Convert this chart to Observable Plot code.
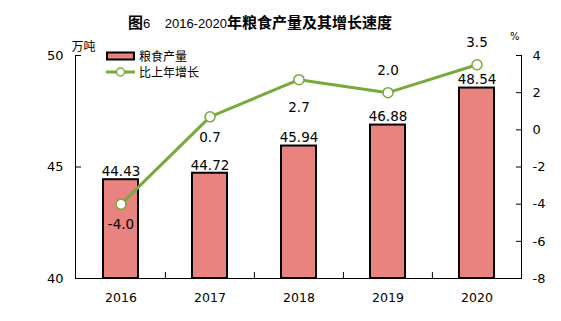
<!DOCTYPE html>
<html>
<head>
<meta charset="utf-8">
<script src="https://cdn.jsdelivr.net/npm/d3@7"></script>
<script src="https://cdn.jsdelivr.net/npm/@observablehq/plot@0.6"></script>
<style>
  body { margin: 0; background: #fff; }
  #wrap { position: relative; width: 561px; height: 321px; }
  #title { position: absolute; left: 128px; top: 13px; white-space: nowrap; font-size: 15px; line-height: 18px; color: #000; }
  #title .cjk { font-family: "Noto Sans CJK SC", sans-serif; font-weight: bold; }
  #title .num { font-family: "Liberation Sans", sans-serif; font-weight: normal; font-size: 13px; }
  #legend { position: absolute; left: 106px; top: 48px; font-family: "Noto Sans CJK SC", sans-serif; font-size: 12px; line-height: 16px; color: #000; }
  #legend div { display: flex; align-items: center; height: 16px; }
  #legend svg { margin-right: 4px; }
</style>
</head>
<body>
<div id="wrap">
  <div id="title"><span class="cjk">图</span><span class="num">6&nbsp;&nbsp;&nbsp; 2016-2020</span><span class="cjk">年粮食产量及其增长速度</span></div>
  <div id="legend"></div>
</div>
<script>
const years = ["2016", "2017", "2018", "2019", "2020"];
const production = [44.43, 44.72, 45.94, 46.88, 48.54];
const growth = [-4.0, 0.7, 2.7, 2.0, 3.5];
const leftTicks = [40, 45, 50];
const rightTicks = [-8, -6, -4, -2, 0, 2, 4];
const seriesNames = ["粮食产量", "比上年增长"];
const unitLeft = "万吨";
const unitRight = "%";

const barColor = "#E8837F";
const lineColor = "#77AA3A";
const numFont = "DejaVu Sans, sans-serif";

// right axis domain [-8, 4] mapped onto left domain [40, 50]
const lDom = [40, 50], rDom = [-8, 4];
const toLeft = g => lDom[0] + (g - rDom[0]) * (lDom[1] - lDom[0]) / (rDom[1] - rDom[0]);
const toRight = v => rDom[0] + (v - lDom[0]) * (rDom[1] - rDom[0]) / (lDom[1] - lDom[0]);

const data = years.map((year, i) => ({year, prod: production[i], g: growth[i], gy: toLeft(growth[i])}));
const below = data.filter(d => d.year <= "2017");
const below2 = data.filter(d => d.year === "2018");
const above = data.filter(d => d.year >= "2019");

const plot = Plot.plot({
  width: 561,
  height: 321,
  marginLeft: 75,
  marginRight: 40,
  marginTop: 55,
  marginBottom: 43,
  style: {fontFamily: numFont, fontSize: "12.5px", color: "#000", background: "transparent"},
  x: {type: "band", domain: years, padding: 0, label: null},
  y: {domain: lDom, label: null},
  marks: [
    Plot.barY(data, {x: "year", y1: lDom[0], y2: "prod", fill: barColor, stroke: "#000", strokeWidth: 2, insetLeft: 27, insetRight: 27}),
    Plot.frame({anchor: "left", stroke: "#000"}),
    Plot.frame({anchor: "right", stroke: "#000"}),
    Plot.frame({anchor: "bottom", stroke: "#000"}),
    Plot.axisY({anchor: "left", ticks: leftTicks, tickSize: 6, insetLeft: 6, tickPadding: 12, label: null, fontSize: 13}),
    Plot.axisY({anchor: "right", ticks: rightTicks.map(toLeft), tickFormat: v => String(Math.round(toRight(v))), tickSize: 6, insetRight: 6, tickPadding: 11, label: null, fontSize: 13}),
    Plot.axisX({anchor: "bottom", tickSize: 0, tickPadding: 15, label: null, fontSize: 12.5}),
    Plot.axisX({anchor: "bottom", ticks: years.slice(1), tickSize: 6, insetBottom: 6, dx: -44.6, tickFormat: () => "", label: null}),
    Plot.text([unitLeft], {frameAnchor: "top-left", dx: -4, dy: -13, fontFamily: "Noto Sans CJK SC", fontSize: 12}),
    Plot.text([unitRight], {frameAnchor: "top-right", dx: -2, dy: -23, fontFamily: "DejaVu Sans", fontSize: 10}),
    Plot.text(data, {x: "year", y: "prod", text: d => d.prod.toFixed(2), dy: -8, fontSize: 13.5}),
    Plot.line(data, {x: "year", y: "gy", stroke: lineColor, strokeWidth: 3}),
    Plot.dot(data, {x: "year", y: "gy", r: 5, fill: "#fff", stroke: lineColor, strokeWidth: 1.5}),
    Plot.text(below, {x: "year", y: "gy", text: d => d.g.toFixed(1), dy: 21, fontSize: 13.5}),
    Plot.text(below2, {x: "year", y: "gy", text: d => d.g.toFixed(1), dy: 28, fontSize: 13.5}),
    Plot.text(above, {x: "year", y: "gy", text: d => d.g.toFixed(1), dy: -22, fontSize: 13.5})
  ]
});
document.getElementById("wrap").prepend(plot);

// legend
const legend = document.getElementById("legend");
legend.innerHTML =
  `<div><svg width="29" height="10"><rect x="1" y="1.5" width="27" height="7" fill="${barColor}" stroke="#000" stroke-width="2"/></svg><span>${seriesNames[0]}</span></div>` +
  `<div><svg width="29" height="10"><line x1="0" y1="5" x2="29" y2="5" stroke="${lineColor}" stroke-width="3"/><circle cx="14.5" cy="5" r="4" fill="#fff" stroke="${lineColor}" stroke-width="1.5"/></svg><span>${seriesNames[1]}</span></div>`;
</script>
</body>
</html>
